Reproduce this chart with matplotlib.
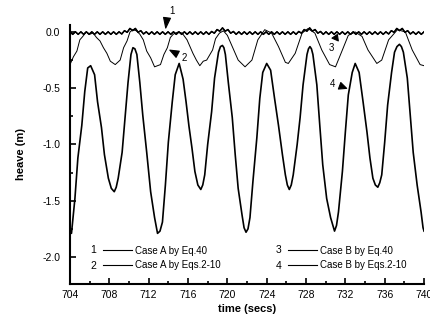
import numpy as np
import matplotlib.pyplot as plt
from matplotlib.lines import Line2D
from matplotlib.ticker import MultipleLocator

plt.rcParams['font.family'] = ['Liberation Sans', 'DejaVu Sans']

# curves 1 and 3: fast ripple near zero, sampled on a regular clock
t_ripple = np.linspace(704.0, 740.0, 131)
heave1 = [
    0.002, -0.022, 0.002, -0.022, 0.002, -0.022, 0.002, -0.022, 0.002, -0.022,
    0.002, -0.022, 0.002, -0.022, 0.002, -0.022, 0.002, -0.022, 0.002, -0.019,
    0.012, -0.002, 0.032, 0.013, 0.032, -0.002, 0.012, -0.019, 0.002, -0.022,
    0.002, -0.022, 0.002, -0.022, 0.002, -0.022, 0.002, -0.022, 0.002, -0.022,
    0.002, -0.022, 0.002, -0.022, 0.002, -0.022, 0.002, -0.022, 0.002, -0.022,
    0.002, -0.022, 0.005, -0.012, 0.022, 0.008, 0.037, 0.008, 0.022, -0.012,
    0.005, -0.022, 0.002, -0.022, 0.002, -0.022, 0.002, -0.022, 0.002, -0.022,
    0.002, -0.022, 0.002, -0.022, 0.002, -0.022, 0.002, -0.022, 0.002, -0.022,
    0.002, -0.022, 0.002, -0.022, 0.005, -0.012, 0.022, 0.008, 0.037, 0.008,
    0.022, -0.012, 0.005, -0.022, 0.002, -0.022, 0.002, -0.022, 0.002, -0.022,
    0.002, -0.022, 0.002, -0.022, 0.002, -0.022, 0.002, -0.022, 0.002, -0.022,
    0.002, -0.022, 0.002, -0.022, 0.002, -0.022, 0.002, -0.019, 0.012, -0.002,
    0.032, 0.013, 0.032, -0.002, 0.012, -0.019, 0.002, -0.022, 0.002, -0.022,
    0.002,
]
heave3 = [
    0.000, -0.020, 0.000, -0.020, 0.000, -0.020, 0.000, -0.020, 0.000, -0.020,
    0.000, -0.020, 0.000, -0.020, 0.000, -0.020, 0.000, -0.020, 0.000, -0.017,
    0.010, -0.004, 0.030, 0.011, 0.030, -0.004, 0.010, -0.017, 0.000, -0.020,
    0.000, -0.020, 0.000, -0.020, 0.000, -0.020, 0.000, -0.020, 0.000, -0.020,
    0.000, -0.020, 0.000, -0.020, 0.000, -0.020, 0.000, -0.020, 0.000, -0.020,
    0.000, -0.020, 0.003, -0.010, 0.020, 0.006, 0.035, 0.006, 0.020, -0.010,
    0.003, -0.020, 0.000, -0.020, 0.000, -0.020, 0.000, -0.020, 0.000, -0.020,
    0.000, -0.020, 0.000, -0.020, 0.000, -0.020, 0.000, -0.020, 0.000, -0.020,
    0.000, -0.020, 0.000, -0.020, 0.003, -0.010, 0.020, 0.006, 0.035, 0.006,
    0.020, -0.010, 0.003, -0.020, 0.000, -0.020, 0.000, -0.020, 0.000, -0.020,
    0.000, -0.020, 0.000, -0.020, 0.000, -0.020, 0.000, -0.020, 0.000, -0.020,
    0.000, -0.020, 0.000, -0.020, 0.000, -0.020, 0.000, -0.017, 0.010, -0.004,
    0.030, 0.011, 0.030, -0.004, 0.010, -0.017, 0.000, -0.020, 0.000, -0.020,
    0.000,
]

# curve 2: Case A by Eqs.2-10
t2 = [704.0, 704.35, 704.7, 705.0, 705.3, 705.65, 706.0, 706.35, 706.7, 707.05,
      707.4, 707.75, 708.1, 708.6, 709.1, 709.45, 709.8, 710.1, 710.4, 710.75,
      711.1, 711.45, 711.8, 712.2, 712.6, 713.2, 713.55, 713.9, 714.2, 714.5,
      715.0, 715.4, 715.9, 716.2, 716.5, 716.85, 717.2, 717.55, 717.9, 718.5,
      718.8, 719.2, 719.6, 720.0, 720.5, 721.1, 721.8, 722.5, 722.8, 723.1,
      723.8, 724.5, 725.2, 725.9, 726.2, 726.9, 727.6, 728.2, 728.9, 729.6,
      730.4, 731.0, 731.7, 732.3, 733.0, 733.7, 734.3, 735.2, 735.7, 736.4,
      737.3, 738.1, 738.8, 739.6, 740.0]
heave2 = [-0.29, -0.22, -0.17, -0.07, -0.04, 0.00, -0.02, -0.01, -0.05, -0.08,
          -0.14, -0.19, -0.26, -0.29, -0.25, -0.14, -0.08, 0.00, 0.02, 0.01,
          -0.02, -0.07, -0.17, -0.23, -0.31, -0.29, -0.20, -0.14, -0.05, -0.02,
          0.00, -0.01, -0.07, -0.13, -0.19, -0.25, -0.30, -0.26, -0.25, -0.16,
          -0.06, -0.01, 0.01, -0.03, -0.13, -0.25, -0.31, -0.25, -0.16, -0.07,
          0.02, -0.01, -0.13, -0.27, -0.28, -0.19, -0.01, 0.03, -0.01, -0.16,
          -0.29, -0.31, -0.16, -0.03, 0.00, -0.04, -0.16, -0.28, -0.25, -0.07,
          0.02, 0.00, -0.16, -0.29, -0.30]

# curve 4: Case B by Eqs.2-10
t4 = [704.0, 704.15, 704.5, 704.8, 705.2, 705.5, 705.8, 706.1, 706.5, 706.8,
      707.2, 707.5, 707.9, 708.2, 708.5, 708.7, 708.9, 709.3, 709.6, 709.9,
      710.2, 710.4, 710.6, 710.8, 711.1, 711.4, 711.8, 712.2, 712.6, 712.9,
      713.15, 713.4, 713.7, 714.0, 714.4, 714.7, 715.1, 715.5, 715.8, 716.1,
      716.4, 716.7, 717.0, 717.3, 717.5, 717.7, 718.0, 718.4, 718.7, 719.1,
      719.3, 719.5, 719.65, 719.8, 720.1, 720.5, 720.8, 721.1, 721.5, 721.7,
      721.9, 722.1, 722.3, 722.6, 723.0, 723.3, 723.6, 724.0, 724.4, 724.8,
      725.2, 725.6, 725.9, 726.1, 726.3, 726.5, 726.7, 727.1, 727.4, 727.7,
      728.1, 728.25, 728.4, 728.55, 728.7, 729.1, 729.4, 729.7, 730.1, 730.5,
      730.9, 731.1, 731.3, 731.7, 732.0, 732.3, 732.7, 733.0, 733.4, 733.8,
      734.2, 734.5, 734.8, 735.05, 735.3, 735.5, 735.7, 736.0, 736.3, 736.7,
      737.0, 737.25, 737.5, 737.7, 737.9, 738.3, 738.6, 738.9, 739.3, 739.7,
      739.9, 740.0]
heave4 = [-1.76, -1.79, -1.48, -1.12, -0.83, -0.53, -0.32, -0.30, -0.38, -0.62,
          -0.85, -1.09, -1.30, -1.39, -1.42, -1.38, -1.30, -1.07, -0.76, -0.45,
          -0.20, -0.14, -0.15, -0.20, -0.45, -0.74, -1.07, -1.42, -1.65, -1.79,
          -1.77, -1.69, -1.36, -0.98, -0.62, -0.38, -0.28, -0.42, -0.62, -0.84,
          -1.03, -1.24, -1.36, -1.40, -1.36, -1.27, -1.00, -0.71, -0.41, -0.18,
          -0.13, -0.12, -0.14, -0.20, -0.45, -0.76, -1.09, -1.39, -1.63, -1.74,
          -1.78, -1.75, -1.65, -1.33, -0.94, -0.59, -0.36, -0.28, -0.34, -0.59,
          -0.83, -1.09, -1.27, -1.36, -1.40, -1.36, -1.27, -1.00, -0.76, -0.47,
          -0.20, -0.15, -0.13, -0.15, -0.20, -0.47, -0.83, -1.18, -1.48, -1.65,
          -1.77, -1.72, -1.60, -1.24, -0.89, -0.56, -0.36, -0.28, -0.36, -0.62,
          -0.89, -1.12, -1.30, -1.36, -1.38, -1.34, -1.27, -0.98, -0.65, -0.36,
          -0.18, -0.13, -0.11, -0.13, -0.18, -0.41, -0.74, -1.07, -1.36, -1.60,
          -1.74, -1.77]

labels = ["Case A by Eq.40", "Case A by Eqs.2-10",
          "Case B by Eq.40", "Case B by Eqs.2-10"]
xticks = [704, 708, 712, 716, 720, 724, 728, 732, 736, 740]
yticks = [0.0, -0.5, -1.0, -1.5, -2.0]

fig = plt.figure(figsize=(4.30, 3.21), dpi=100)
ax = fig.add_axes([0.1628, 0.1153, 0.8233, 0.8069])

ax.plot(t_ripple, heave1, color="k", lw=1.0)
ax.plot(t_ripple, heave3, color="k", lw=1.0)
ax.plot(t2, heave2, color="k", lw=0.7)
ax.plot(t4, heave4, color="k", lw=1.2)

ax.set_xlim(704, 740)
ax.set_ylim(-2.24, 0.062)
ax.set_xticks(xticks)
ax.set_yticks(yticks)
ax.set_yticklabels([f"{v:.1f}" for v in yticks])
ax.xaxis.set_minor_locator(MultipleLocator(2))
ax.yaxis.set_minor_locator(MultipleLocator(0.25))
ax.tick_params(which="both", direction="in", width=1.2, labelsize=7.5)
ax.tick_params(which="major", length=4)
ax.tick_params(which="minor", length=2.5)
ax.tick_params(axis="y", pad=7)
ax.tick_params(axis="x", pad=4)
for side in ["top", "right"]:
    ax.spines[side].set_visible(False)
for side in ["left", "bottom"]:
    ax.spines[side].set_linewidth(1.5)

ax.set_xlabel("time (secs)", fontsize=8, fontweight="bold", labelpad=3)
ax.set_ylabel("heave (m)", fontsize=8, fontweight="bold", labelpad=12)

# curve labels with wedge pointers
wedge = dict(arrowstyle="wedge,tail_width=0.5", color="k", lw=0.8)
ax.text(714.4, 0.19, "1", fontsize=7, ha="center", va="center", clip_on=False)
ax.annotate("", xy=(713.7, 0.01), xytext=(713.9, 0.15),
            arrowprops=wedge, annotation_clip=False)
ax.text(715.6, -0.23, "2", fontsize=7, ha="center", va="center")
ax.annotate("", xy=(713.9, -0.15), xytext=(715.2, -0.21), arrowprops=wedge)
ax.text(730.6, -0.14, "3", fontsize=7, ha="center", va="center")
ax.annotate("", xy=(731.3, 0.0), xytext=(730.85, -0.09), arrowprops=wedge)
ax.text(730.7, -0.46, "4", fontsize=7, ha="center", va="center")
ax.annotate("", xy=(732.4, -0.51), xytext=(731.15, -0.47), arrowprops=wedge)

# legend in two columns, numbers set in front of each line
proxy = [Line2D([], [], color="k", lw=0.8) for _ in labels]
leg_kw = dict(frameon=False, fontsize=7, handlelength=3.0, handletextpad=0.3,
              labelspacing=0.45, borderpad=0, borderaxespad=0, loc="center left")
leg1 = ax.legend(proxy[:2], labels[:2], bbox_to_anchor=(0.093, 0.100), **leg_kw)
ax.add_artist(leg1)
ax.legend(proxy[2:], labels[2:], bbox_to_anchor=(0.616, 0.100), **leg_kw)
for x, y, s in [(0.065, 0.131, "1"), (0.065, 0.069, "2"),
                (0.588, 0.131, "3"), (0.588, 0.069, "4")]:
    ax.text(x, y, s, transform=ax.transAxes, fontsize=7.5, ha="center", va="center")

fig.savefig("out.png", dpi=100)
